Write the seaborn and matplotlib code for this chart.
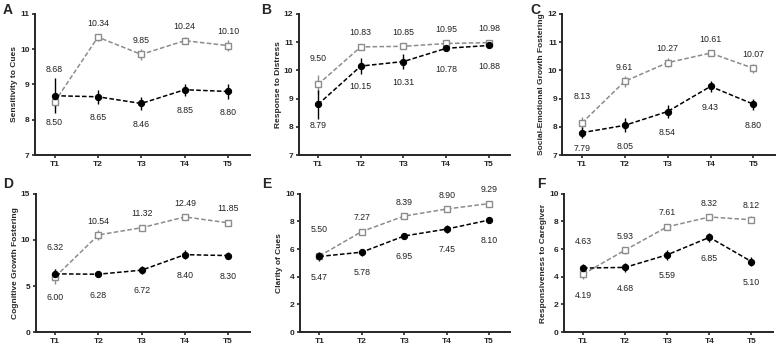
import numpy as np
import pandas as pd
import matplotlib
matplotlib.use("Agg")
import matplotlib.pyplot as plt
import seaborn as sns

times = ["T1", "T2", "T3", "T4", "T5"]

# panel titles (y labels)
titles = ["Sensitivity to Cues", "Response to Distress", "Social-Emotional Growth Fostering",
          "Cognitive Growth Fostering", "Clarity of Cues", "Responsiveness to Caregiver"]
letters = ["A", "B", "C", "D", "E", "F"]

# open squares (grey) series
open_a = [8.50, 10.34, 9.85, 10.24, 10.10]
open_b = [9.50, 10.83, 10.85, 10.95, 10.98]
open_c = [8.13, 9.61, 10.27, 10.61, 10.07]
open_d = [6.00, 10.54, 11.32, 12.49, 11.85]
open_e = [5.50, 7.27, 8.39, 8.90, 9.29]
open_f = [4.19, 5.93, 7.61, 8.32, 8.12]

# filled circles (black) series
fill_a = [8.68, 8.65, 8.46, 8.85, 8.80]
fill_b = [8.79, 10.15, 10.31, 10.78, 10.88]
fill_c = [7.79, 8.05, 8.54, 9.43, 8.80]
fill_d = [6.32, 6.28, 6.72, 8.40, 8.30]
fill_e = [5.47, 5.78, 6.95, 7.45, 8.10]
fill_f = [4.63, 4.68, 5.59, 6.85, 5.10]

# error bars
open_err_a = [0.15, 0.10, 0.15, 0.10, 0.15]
open_err_b = [0.33, 0.05, 0.05, 0.05, 0.05]
open_err_c = [0.20, 0.20, 0.15, 0.05, 0.15]
open_err_d = [0.80, 0.50, 0.30, 0.20, 0.20]
open_err_e = [0.30, 0.12, 0.15, 0.10, 0.10]
open_err_f = [0.35, 0.25, 0.20, 0.20, 0.25]

fill_err_a = [0.50, 0.20, 0.18, 0.17, 0.22]
fill_err_b = [0.50, 0.27, 0.25, 0.10, 0.07]
fill_err_c = [0.20, 0.25, 0.22, 0.20, 0.20]
fill_err_d = [0.50, 0.30, 0.40, 0.50, 0.40]
fill_err_e = [0.35, 0.25, 0.25, 0.30, 0.20]
fill_err_f = [0.30, 0.30, 0.35, 0.35, 0.35]

ylims = [(7, 11), (7, 12), (7, 12), (0, 15), (0, 10), (0, 10)]
yticks = [[7, 8, 9, 10, 11], [7, 8, 9, 10, 11, 12], [7, 8, 9, 10, 11, 12],
          [0, 5, 10, 15], [0, 2, 4, 6, 8, 10], [0, 2, 4, 6, 8, 10]]

opens = [open_a, open_b, open_c, open_d, open_e, open_f]
fills = [fill_a, fill_b, fill_c, fill_d, fill_e, fill_f]
open_errs = [open_err_a, open_err_b, open_err_c, open_err_d, open_err_e, open_err_f]
fill_errs = [fill_err_a, fill_err_b, fill_err_c, fill_err_d, fill_err_e, fill_err_f]

sns.set_style("ticks")
plt.rcParams['font.family'] = ['Liberation Sans', 'DejaVu Sans']

fig = plt.figure(figsize=(7.78, 3.46), dpi=100)

# axes boxes [left, bottom, width, height]
boxes = [
    [0.045, 0.552, 0.276, 0.408],
    [0.384, 0.552, 0.272, 0.408],
    [0.723, 0.552, 0.273, 0.408],
    [0.046, 0.040, 0.275, 0.400],
    [0.386, 0.040, 0.270, 0.400],
    [0.725, 0.040, 0.268, 0.400],
]
letter_pos = [(0.003, 0.992), (0.336, 0.992), (0.682, 0.992),
              (0.004, 0.488), (0.337, 0.488), (0.690, 0.488)]

grey = "#8c8c8c"

for i in range(6):
    ax = fig.add_axes(boxes[i])
    df = pd.DataFrame({
        "time": times * 2,
        "score": opens[i] + fills[i],
        "group": ["open"] * 5 + ["filled"] * 5,
    })
    x = np.arange(5)
    df["x"] = list(x) * 2

    # error bars
    ax.errorbar(x, opens[i], yerr=open_errs[i], fmt="none", ecolor=grey,
                elinewidth=1.0, capsize=0, zorder=2)
    ax.errorbar(x, fills[i], yerr=fill_errs[i], fmt="none", ecolor="black",
                elinewidth=1.0, capsize=0, zorder=2)

    sns.lineplot(data=df[df.group == "open"], x="x", y="score", ax=ax,
                 color=grey, linestyle=(0, (3, 1.5)), linewidth=1.1,
                 marker="s", markersize=4.5, markerfacecolor="white",
                 markeredgecolor=grey, markeredgewidth=1.0, zorder=3)
    sns.lineplot(data=df[df.group == "filled"], x="x", y="score", ax=ax,
                 color="black", linestyle=(0, (3, 1.5)), linewidth=1.1,
                 marker="o", markersize=4.5, markerfacecolor="black",
                 markeredgecolor="black", zorder=4)

    ax.set_xlim(-0.45, 4.5)
    ax.set_ylim(*ylims[i])

    # value labels
    ybase = ax.transAxes.transform((0, 0))[1]
    for j in range(5):
        o, f = opens[i][j], fills[i][j]
        if o >= f:
            top_v, bot_v = o, f
        else:
            top_v, bot_v = f, o
        up = 19 if j == 0 else 10
        # keep the lower label clear of the x axis
        room = (ax.transData.transform((j, bot_v))[1] - ybase) * 72 / fig.dpi
        down = min(15, room - 5)
        ax.annotate(f"{top_v:.2f}", (j, top_v), xytext=(0, up), textcoords="offset points",
                    ha="center", va="center", fontsize=6.3, color="#222222")
        ax.annotate(f"{bot_v:.2f}", (j, bot_v), xytext=(0, -down), textcoords="offset points",
                    ha="center", va="center", fontsize=6.3, color="#222222")

    ax.set_yticks(yticks[i])
    ax.set_xticks(x)
    ax.set_xticklabels(times)
    ax.set_xlabel("")
    ax.set_ylabel(titles[i], fontsize=6, fontweight="bold", labelpad=1.5)
    for lab in ax.get_xticklabels() + ax.get_yticklabels():
        lab.set_fontweight("bold")
        lab.set_fontsize(6)
    ax.tick_params(axis="both", length=2.5, width=1.2, pad=1.5)
    sns.despine(ax=ax)
    for s in ["left", "bottom"]:
        ax.spines[s].set_linewidth(1.4)

    fig.text(letter_pos[i][0], letter_pos[i][1], letters[i], fontsize=10,
             fontweight="bold", va="top", ha="left")

fig.savefig("out.png", dpi=100)
